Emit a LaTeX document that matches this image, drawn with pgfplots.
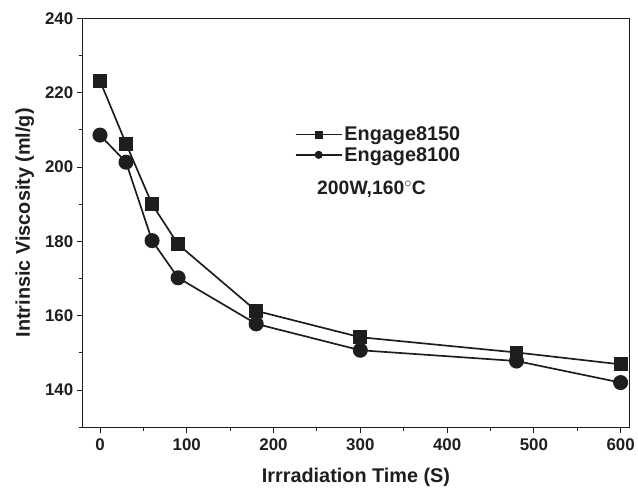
\documentclass[border=0pt]{standalone}
\usepackage{fontspec}
\setmainfont{Liberation Sans}
\usepackage{pgfplots}
\pgfplotsset{compat=1.18}
\usetikzlibrary{calc}
\definecolor{ink}{HTML}{1E1E1E}
\begin{document}
\begin{tikzpicture}
\begin{axis}[name=ax, scale only axis, width=549bp, height=410.5bp,
 xmin=-20, xmax=610, ymin=130, ymax=240,
 xtick={0,100,...,600}, ytick={140,160,...,240},
 minor xtick={50,150,...,550}, minor ytick={130,150,...,230},
 tick align=outside, xtick pos=bottom, ytick pos=left,
 major tick length=6bp, minor tick length=4bp,
 every tick/.style={ink, line width=1bp},
 axis line style={ink, line width=1.1bp},
 /pgf/number format/assume math mode=true,
 tick label style={font=\bfseries\fontsize{17}{20}\selectfont, text=ink},
 xticklabel style={yshift=-2bp},
 xlabel={Irrradiation Time (S)}, ylabel={Intrinsic Viscosity (ml/g)},
 label style={font=\bfseries\fontsize{20}{24}\selectfont, text=ink},
 xlabel style={at={(axis description cs:0.5,-0.124)}, anchor=center},
 ylabel style={at={(axis description cs:-0.106,0.5)}, anchor=center},
 legend style={draw=none, fill=none, at={(axis description cs:0.388,0.74)}, anchor=north west, font=\bfseries\fontsize{20}{24}\selectfont, text=ink, row sep=1bp, inner sep=0pt},
 legend cell align=left,
 legend image code/.code={\draw[mark repeat=2, mark phase=2, #1, mark size=3.2bp] plot coordinates {(0bp,0bp) (23bp,0bp) (46bp,0bp)};},
]
\addplot[ink, line width=1.7bp, mark=square*, mark size=6.1bp] coordinates {(0,223.2)(30,206.3)(60,190)(90,179.2)(180,161.3)(300,154.2)(480,150.1)(600,146.9)};
\addlegendentry{Engage8150}
\addplot[ink, line width=1.7bp, mark=*, mark size=6.7bp] coordinates {(0,208.6)(30,201.3)(60,180.2)(90,170.2)(180,157.8)(300,150.7)(480,147.8)(600,142)};
\addlegendentry{Engage8100}
\node[font=\bfseries\fontsize{19.5}{22}\selectfont, text=ink] at (axis cs:313,194) {200W,160$^{\circ}$C};
\end{axis}
\path ($(ax.south west)+(-83bp,-62bp)$) rectangle ($(ax.north east)+(6bp,18.5bp)$);
\end{tikzpicture}
\end{document}
